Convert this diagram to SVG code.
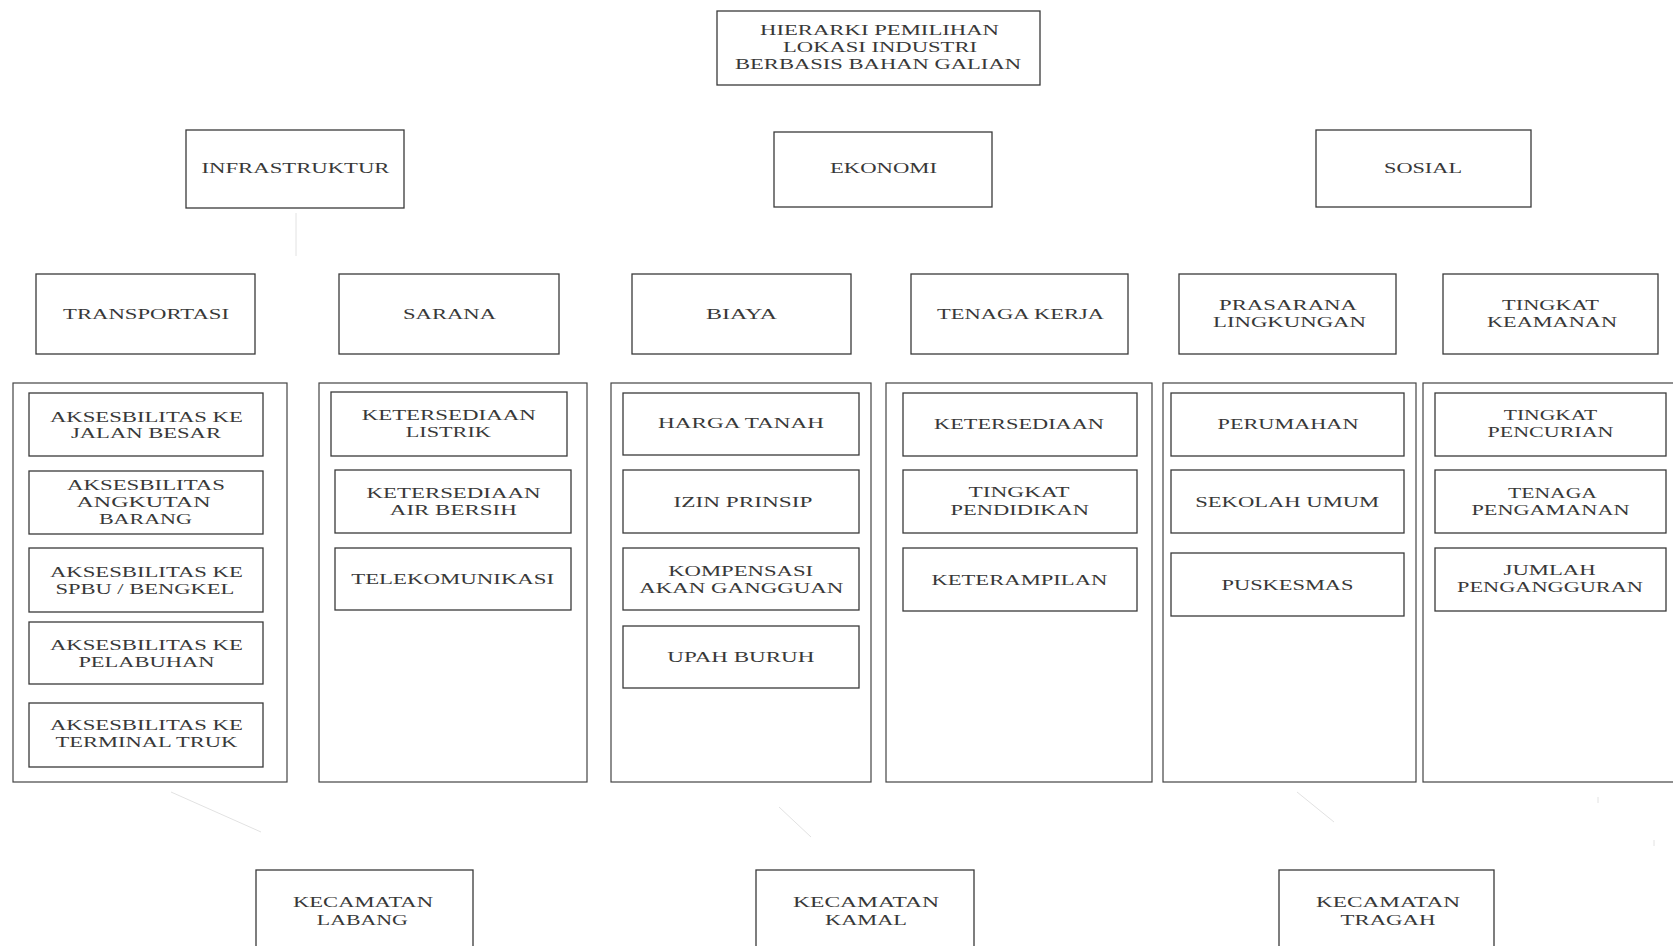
<svg xmlns="http://www.w3.org/2000/svg" width="1673" height="946" viewBox="0 0 1673 946">
  <style>
    .bg { fill: #ffffff; }
    .box { fill: none; stroke: #3a3a3a; stroke-width: 1.3; }
    .col { fill: none; stroke: #444444; stroke-width: 1.2; }
    .lbl { font-family: "Liberation Serif", "Times New Roman", serif; font-size: 15px; fill: #383838; text-anchor: middle; }
    .sub { font-family: "Liberation Serif", "Times New Roman", serif; font-size: 14.5px; fill: #383838; text-anchor: middle; }
    .trace { fill: none; stroke: #e2e2e2; stroke-width: 1; }
  </style>
  <rect class="bg" x="0" y="0" width="1673" height="946"/>

  <!-- faded connector traces -->
  <g id="connectors">
    <line class="trace" x1="296" y1="213" x2="296" y2="256"/>
    <line class="trace" x1="171" y1="792" x2="261" y2="832"/>
    <line class="trace" x1="779" y1="807" x2="811" y2="837"/>
    <line class="trace" x1="1297" y1="792" x2="1334" y2="822"/>
    <line class="trace" x1="1598" y1="797" x2="1598" y2="803"/>
    <line class="trace" x1="1654" y1="840" x2="1654" y2="846"/>
  </g>

  <!-- goal -->
  <g id="goal">
    <rect class="box" x="717" y="11" width="323" height="74"/>
    <text class="lbl" x="879.5" y="35" textLength="239" lengthAdjust="spacingAndGlyphs">HIERARKI PEMILIHAN</text>
    <text class="lbl" x="880" y="52" textLength="194" lengthAdjust="spacingAndGlyphs">LOKASI INDUSTRI</text>
    <text class="lbl" x="878" y="69" textLength="286" lengthAdjust="spacingAndGlyphs">BERBASIS BAHAN GALIAN</text>
  </g>

  <!-- criteria -->
  <g id="infrastruktur">
    <rect class="box" x="186" y="130" width="218" height="78"/>
    <text class="lbl" x="295.5" y="173" textLength="188" lengthAdjust="spacingAndGlyphs">INFRASTRUKTUR</text>
  </g>
  <g id="ekonomi">
    <rect class="box" x="774" y="132" width="218" height="75"/>
    <text class="lbl" x="883.5" y="173" textLength="107" lengthAdjust="spacingAndGlyphs">EKONOMI</text>
  </g>
  <g id="sosial">
    <rect class="box" x="1316" y="130" width="215" height="77"/>
    <text class="lbl" x="1423" y="173" textLength="78" lengthAdjust="spacingAndGlyphs">SOSIAL</text>
  </g>

  <!-- sub-criteria -->
  <g id="transportasi">
    <rect class="box" x="36" y="274" width="219" height="80"/>
    <text class="lbl" x="146" y="319" textLength="166" lengthAdjust="spacingAndGlyphs">TRANSPORTASI</text>
  </g>
  <g id="sarana">
    <rect class="box" x="339" y="274" width="220" height="80"/>
    <text class="lbl" x="449.5" y="319" textLength="93" lengthAdjust="spacingAndGlyphs">SARANA</text>
  </g>
  <g id="biaya">
    <rect class="box" x="632" y="274" width="219" height="80"/>
    <text class="lbl" x="741.5" y="319" textLength="71" lengthAdjust="spacingAndGlyphs">BIAYA</text>
  </g>
  <g id="tenaga-kerja">
    <rect class="box" x="911" y="274" width="217" height="80"/>
    <text class="lbl" x="1020.5" y="319" textLength="167" lengthAdjust="spacingAndGlyphs">TENAGA KERJA</text>
  </g>
  <g id="prasarana-lingkungan">
    <rect class="box" x="1179" y="274" width="217" height="80"/>
    <text class="lbl" x="1288" y="309.5" textLength="138" lengthAdjust="spacingAndGlyphs">PRASARANA</text>
    <text class="lbl" x="1289.5" y="327" textLength="153" lengthAdjust="spacingAndGlyphs">LINGKUNGAN</text>
  </g>
  <g id="tingkat-keamanan">
    <rect class="box" x="1443" y="274" width="215" height="80"/>
    <text class="lbl" x="1550.5" y="309.5" textLength="97" lengthAdjust="spacingAndGlyphs">TINGKAT</text>
    <text class="lbl" x="1552" y="327" textLength="130" lengthAdjust="spacingAndGlyphs">KEAMANAN</text>
  </g>

  <!-- indicator groups -->
  <g id="indikator-transportasi">
    <rect class="col" x="13" y="383" width="274" height="399"/>
    <rect class="box" x="29" y="393" width="234" height="63"/>
    <text class="sub" x="146.4" y="421.7" textLength="193" lengthAdjust="spacingAndGlyphs">AKSESBILITAS KE</text>
    <text class="sub" x="146" y="438" textLength="150" lengthAdjust="spacingAndGlyphs">JALAN BESAR</text>
    <rect class="box" x="29" y="471" width="234" height="63"/>
    <text class="sub" x="146" y="490" textLength="158" lengthAdjust="spacingAndGlyphs">AKSESBILITAS</text>
    <text class="sub" x="143.5" y="506.7" textLength="134" lengthAdjust="spacingAndGlyphs">ANGKUTAN</text>
    <text class="sub" x="145.4" y="524" textLength="93" lengthAdjust="spacingAndGlyphs">BARANG</text>
    <rect class="box" x="29" y="548" width="234" height="64"/>
    <text class="sub" x="146.4" y="576.7" textLength="193" lengthAdjust="spacingAndGlyphs">AKSESBILITAS KE</text>
    <text class="sub" x="144.9" y="594" textLength="179" lengthAdjust="spacingAndGlyphs">SPBU / BENGKEL</text>
    <rect class="box" x="29" y="622" width="234" height="62"/>
    <text class="sub" x="146.4" y="650" textLength="193" lengthAdjust="spacingAndGlyphs">AKSESBILITAS KE</text>
    <text class="sub" x="146.4" y="667.3" textLength="136" lengthAdjust="spacingAndGlyphs">PELABUHAN</text>
    <rect class="box" x="29" y="703" width="234" height="64"/>
    <text class="sub" x="146.4" y="730" textLength="193" lengthAdjust="spacingAndGlyphs">AKSESBILITAS KE</text>
    <text class="sub" x="146.4" y="747.3" textLength="182" lengthAdjust="spacingAndGlyphs">TERMINAL TRUK</text>
  </g>

  <g id="indikator-sarana">
    <rect class="col" x="319" y="383" width="268" height="399"/>
    <rect class="box" x="331" y="392" width="236" height="64"/>
    <text class="sub" x="448.7" y="420" textLength="174" lengthAdjust="spacingAndGlyphs">KETERSEDIAAN</text>
    <text class="sub" x="448.3" y="437.3" textLength="85" lengthAdjust="spacingAndGlyphs">LISTRIK</text>
    <rect class="box" x="335" y="470" width="236" height="63"/>
    <text class="sub" x="453.5" y="497.7" textLength="174" lengthAdjust="spacingAndGlyphs">KETERSEDIAAN</text>
    <text class="sub" x="453.3" y="515" textLength="127" lengthAdjust="spacingAndGlyphs">AIR BERSIH</text>
    <rect class="box" x="335" y="548" width="236" height="62"/>
    <text class="sub" x="452.7" y="584" textLength="203" lengthAdjust="spacingAndGlyphs">TELEKOMUNIKASI</text>
  </g>

  <g id="indikator-biaya">
    <rect class="col" x="611" y="383" width="260" height="399"/>
    <rect class="box" x="623" y="393" width="236" height="62"/>
    <text class="sub" x="741" y="428.3" textLength="166" lengthAdjust="spacingAndGlyphs">HARGA TANAH</text>
    <rect class="box" x="623" y="470" width="236" height="63"/>
    <text class="sub" x="743" y="506.7" textLength="139" lengthAdjust="spacingAndGlyphs">IZIN PRINSIP</text>
    <rect class="box" x="623" y="548" width="236" height="62"/>
    <text class="sub" x="740.7" y="576" textLength="145" lengthAdjust="spacingAndGlyphs">KOMPENSASI</text>
    <text class="sub" x="741.3" y="593.3" textLength="204" lengthAdjust="spacingAndGlyphs">AKAN GANGGUAN</text>
    <rect class="box" x="623" y="626" width="236" height="62"/>
    <text class="sub" x="740.8" y="661.7" textLength="147" lengthAdjust="spacingAndGlyphs">UPAH BURUH</text>
  </g>

  <g id="indikator-tenaga-kerja">
    <rect class="col" x="886" y="383" width="266" height="399"/>
    <rect class="box" x="903" y="393" width="234" height="63"/>
    <text class="sub" x="1019" y="429.3" textLength="170" lengthAdjust="spacingAndGlyphs">KETERSEDIAAN</text>
    <rect class="box" x="903" y="470" width="234" height="63"/>
    <text class="sub" x="1019" y="496.7" textLength="101" lengthAdjust="spacingAndGlyphs">TINGKAT</text>
    <text class="sub" x="1019.8" y="515" textLength="138.5" lengthAdjust="spacingAndGlyphs">PENDIDIKAN</text>
    <rect class="box" x="903" y="548" width="234" height="63"/>
    <text class="sub" x="1019.4" y="585" textLength="176" lengthAdjust="spacingAndGlyphs">KETERAMPILAN</text>
  </g>

  <g id="indikator-prasarana">
    <rect class="col" x="1163" y="383" width="253" height="399"/>
    <rect class="box" x="1171" y="393" width="233" height="63"/>
    <text class="sub" x="1288" y="429.3" textLength="141" lengthAdjust="spacingAndGlyphs">PERUMAHAN</text>
    <rect class="box" x="1171" y="470" width="233" height="63"/>
    <text class="sub" x="1287.2" y="506.7" textLength="184" lengthAdjust="spacingAndGlyphs">SEKOLAH UMUM</text>
    <rect class="box" x="1171" y="553" width="233" height="63"/>
    <text class="sub" x="1287.5" y="590" textLength="132" lengthAdjust="spacingAndGlyphs">PUSKESMAS</text>
  </g>

  <g id="indikator-keamanan">
    <rect class="col" x="1423" y="383" width="262" height="399"/>
    <rect class="box" x="1435" y="393" width="231" height="63"/>
    <text class="sub" x="1550.5" y="420" textLength="93.5" lengthAdjust="spacingAndGlyphs">TINGKAT</text>
    <text class="sub" x="1550.5" y="437.3" textLength="126" lengthAdjust="spacingAndGlyphs">PENCURIAN</text>
    <rect class="box" x="1435" y="470" width="231" height="63"/>
    <text class="sub" x="1552.5" y="497.7" textLength="89" lengthAdjust="spacingAndGlyphs">TENAGA</text>
    <text class="sub" x="1550.5" y="515" textLength="158" lengthAdjust="spacingAndGlyphs">PENGAMANAN</text>
    <rect class="box" x="1435" y="548" width="231" height="63"/>
    <text class="sub" x="1549.6" y="575" textLength="92" lengthAdjust="spacingAndGlyphs">JUMLAH</text>
    <text class="sub" x="1550" y="592.3" textLength="186" lengthAdjust="spacingAndGlyphs">PENGANGGURAN</text>
  </g>

  <!-- alternatives -->
  <g id="kecamatan-labang">
    <rect class="box" x="256" y="870" width="217" height="90"/>
    <text class="lbl" x="363" y="906.7" textLength="140" lengthAdjust="spacingAndGlyphs">KECAMATAN</text>
    <text class="lbl" x="362.3" y="925" textLength="91" lengthAdjust="spacingAndGlyphs">LABANG</text>
  </g>
  <g id="kecamatan-kamal">
    <rect class="box" x="756" y="870" width="218" height="90"/>
    <text class="lbl" x="866" y="906.7" textLength="146" lengthAdjust="spacingAndGlyphs">KECAMATAN</text>
    <text class="lbl" x="866" y="925" textLength="82" lengthAdjust="spacingAndGlyphs">KAMAL</text>
  </g>
  <g id="kecamatan-tragah">
    <rect class="box" x="1279" y="870" width="215" height="90"/>
    <text class="lbl" x="1388" y="906.7" textLength="144" lengthAdjust="spacingAndGlyphs">KECAMATAN</text>
    <text class="lbl" x="1388" y="925" textLength="95" lengthAdjust="spacingAndGlyphs">TRAGAH</text>
  </g>
</svg>
